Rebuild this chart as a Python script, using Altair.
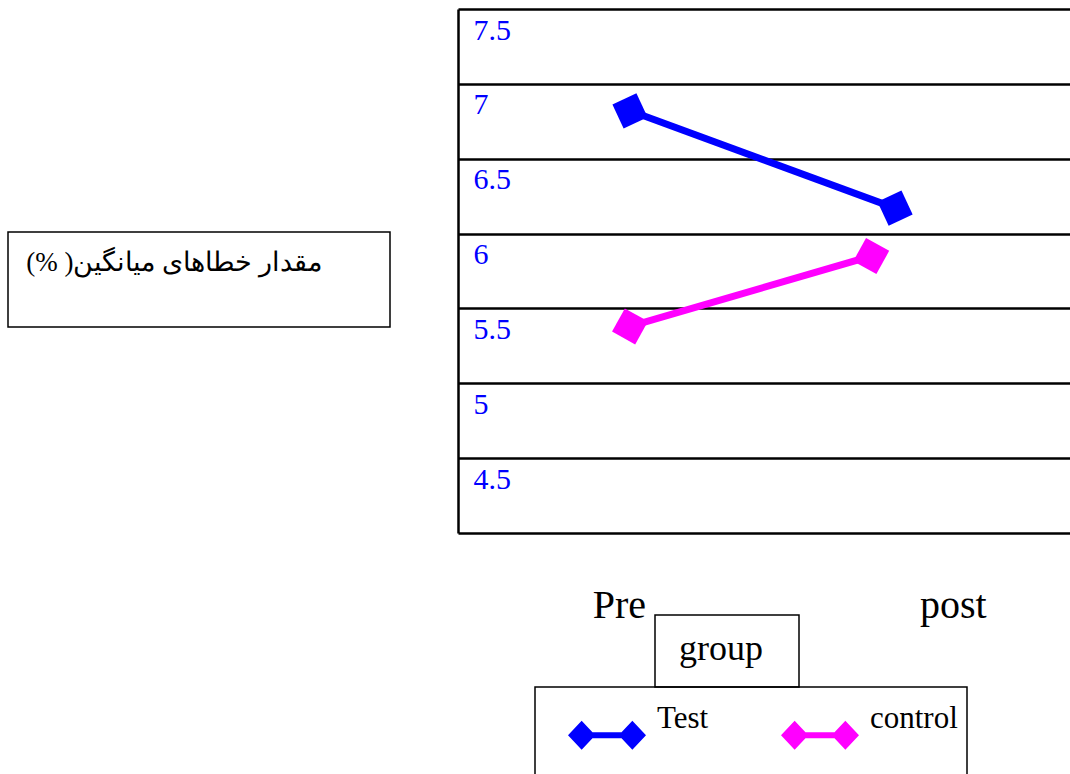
import altair as alt
import pandas as pd

# ---- data ----
groups = ["Test", "control"]
colors = ["#0000FF", "#FF00FF"]
test_x = [1.0, 2.0]
test_vals = [6.82, 6.17]
control_x = [1.0, 1.91]
control_vals = [5.38, 5.85]
y_ticks = [4, 4.5, 5, 5.5, 6, 6.5, 7, 7.5]
period_labels = ["Pre", "post"]
period_label_x = [0.96, 2.22]
y_title_text = "مقدار خطاهای میانگین( %)"
legend_title = "group"
marker_angles = [65, 29]

df = pd.DataFrame({
    "group": [groups[0]] * len(test_x) + [groups[1]] * len(control_x),
    "x": test_x + control_x,
    "value": test_vals + control_vals,
})
labels_df = pd.DataFrame({"label": period_labels, "pos": period_label_x})
one = pd.DataFrame({"k": [0]})

W, H = 612, 524
PAD_L, PAD_T = 458, 9
FONT = "Liberation Serif"

xscale = alt.Scale(domain=[0.351, 2.66], nice=False, zero=False)
yscale = alt.Scale(domain=[4, 7.5], nice=False, zero=False)
cscale = alt.Scale(domain=groups, range=colors)

legend_symbol = (
    "M-1,0L-0.65,-0.37L-0.3,0L-0.65,0.37Z "
    "M0.3,0L0.65,-0.37L1,0L0.65,0.37Z "
    "M-0.4,-0.075L0.4,-0.075L0.4,0.075L-0.4,0.075Z"
)

legend = alt.Legend(
    orient="none", legendX=110, legendY=623, direction="horizontal",
    title=legend_title, titleFont=FONT, titleFontSize=36, titleFontWeight="normal",
    titleColor="black", titleAnchor="middle", titleAlign="right", titlePadding=28,
    labelFont=FONT, labelFontSize=31, labelColor="black", labelOffset=11,
    labelBaseline="bottom", labelLimit=0, columnPadding=72, padding=0,
    symbolType=legend_symbol, symbolSize=6084, symbolStrokeWidth=0,
    symbolOpacity=1,
)

base = alt.Chart(df)

yaxis = alt.Axis(
    values=y_ticks, title="", grid=True, gridColor="black", gridWidth=2.5,
    domain=True, domainColor="black", domainWidth=2.5, ticks=False,
    labelFont=FONT, labelFontSize=30, labelColor="#0000FF",
    labelAlign="left", labelBaseline="alphabetic", labelPadding=-15, labelOffset=30,
    labelFlush=False, labelOverlap=False, labelBound=False, format="~g",
    labelExpr="datum.value == 4 ? '' : datum.label",
)

lines = base.mark_line(strokeWidth=7).encode(
    x=alt.X("x:Q", scale=xscale, axis=None),
    y=alt.Y("value:Q", scale=yscale, axis=yaxis),
    color=alt.Color("group:N", scale=cscale, legend=legend),
    detail="group:N",
)

points = base.mark_point(shape="square", filled=True, size=700, opacity=1, strokeWidth=0).encode(
    x=alt.X("x:Q", scale=xscale, axis=None),
    y=alt.Y("value:Q", scale=yscale),
    color=alt.Color("group:N", scale=cscale, legend=legend),
    angle=alt.Angle("group:N", scale=alt.Scale(domain=groups, range=marker_angles), legend=None),
)

period_text = alt.Chart(labels_df).mark_text(
    font=FONT, fontSize=40, baseline="alphabetic", align="center", color="black"
).encode(
    x=alt.X("pos:Q", scale=xscale, axis=None),
    y=alt.value(618 - PAD_T),
    text="label:N",
)

# decorative boxes (left y-title box and legend frames)
left_box = alt.Chart(one).mark_rect(fillOpacity=0, stroke="black", strokeWidth=1.5).encode(
    x=alt.value(8 - PAD_L), x2=alt.value(390 - PAD_L),
    y=alt.value(232 - PAD_T), y2=alt.value(327 - PAD_T),
)
left_text = alt.Chart(one).mark_text(
    text="\u202b" + y_title_text + "\u202c", font=FONT, fontSize=27, align="right",
    baseline="alphabetic", color="black",
).encode(x=alt.value(322 - PAD_L), y=alt.value(271 - PAD_T))

group_box = alt.Chart(one).mark_rect(fillOpacity=0, stroke="black", strokeWidth=1.5).encode(
    x=alt.value(655 - PAD_L), x2=alt.value(799 - PAD_L),
    y=alt.value(615 - PAD_T), y2=alt.value(687 - PAD_T),
)
legend_box = alt.Chart(one).mark_rect(fillOpacity=0, stroke="black", strokeWidth=1.5).encode(
    x=alt.value(535 - PAD_L), x2=alt.value(967 - PAD_L),
    y=alt.value(687 - PAD_T), y2=alt.value(800 - PAD_T),
)

chart = alt.layer(
    lines, points, period_text, left_box, left_text, group_box, legend_box
).properties(
    width=W, height=H,
    autosize=alt.AutoSizeParams(type="none"),
    padding={"left": PAD_L, "top": PAD_T, "right": 0, "bottom": 774 - PAD_T - H},
    background="white",
).configure_view(strokeWidth=0)

chart.save("out.html", embed_options={"renderer": "svg", "actions": False})
